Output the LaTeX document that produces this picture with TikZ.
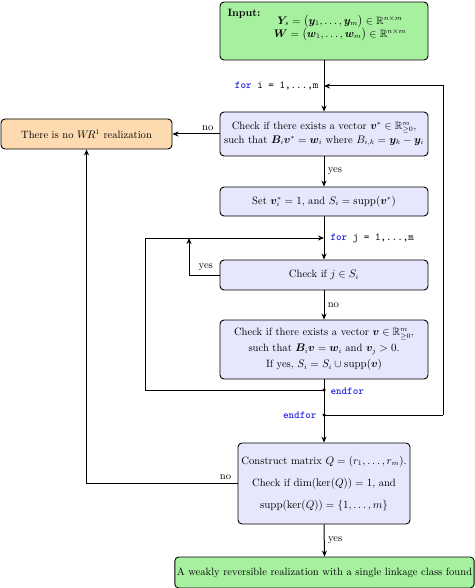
\documentclass[tikz,border=0pt]{standalone}
\usepackage{amsmath,amssymb,bm}
\usetikzlibrary{arrows.meta}
\definecolor{ingreen}{RGB}{166,240,160}
\definecolor{lav}{RGB}{230,230,252}
\definecolor{orng}{RGB}{253,218,176}
\definecolor{kwblue}{RGB}{40,40,220}
\newcommand{\fsz}{\fontsize{10.6}{13}\selectfont}
\tikzset{
  box/.style={draw, line width=0.9pt, rounded corners=4pt, align=center, inner sep=2pt, font=\fsz},
  lavbox/.style={box, fill=lav},
  grbox/.style={box, fill=ingreen},
  orbox/.style={box, fill=orng},
  conn/.style={line width=1pt},
  arr/.style={conn, -{Stealth[length=6pt,width=5pt]}},
  lbl/.style={font=\fsz},
  kw/.style={font=\ttfamily\fsz},
  junct/.style={circle, fill, inner sep=0pt, minimum size=3.5pt}
}
\newcommand{\kwd}[1]{\textcolor{kwblue}{\textbf{#1}}}
\begin{document}
\begin{tikzpicture}[x=1pt,y=-1pt]
\useasboundingbox (0,0) rectangle (474,588);
% boxes
\node[grbox, minimum width=208pt, minimum height=58pt] (input) at (324,31) {};
\node[font=\fsz\bfseries, anchor=north west] (inlbl) at (224,6) {Input:};
\node[font=\fsz, align=center] (inmath) at (340,28) {$\bm{Y}_s = \big(\bm{y}_1,\ldots,\bm{y}_m\big)\in\mathbb{R}^{n\times m}$\\[-1pt]$\bm{W} = \big(\bm{w}_1,\ldots,\bm{w}_m\big)\in\mathbb{R}^{n\times m}$};
\node[lavbox, minimum width=208pt, minimum height=44pt] (check1) at (324,134) {Check if there exists a vector $\bm{v}^*\in\mathbb{R}^m_{\geq 0}$,\\[1pt] such that $\bm{B}_i\bm{v}^* = \bm{w}_i$ where $B_{i,k} = \bm{y}_k - \bm{y}_i$};
\node[orbox, minimum width=171pt, minimum height=30pt] (noreal) at (86.5,134) {There is no $W\!R^1$ realization};
\node[lavbox, minimum width=208pt, minimum height=29pt] (setbox) at (324,201.5) {Set $\bm{v}^*_i = 1$, and $S_i = \operatorname{supp}(\bm{v}^*)$};
\node[lavbox, minimum width=208pt, minimum height=30pt] (check2) at (324,275) {Check if $j\in S_i$};
\node[lavbox, minimum width=208pt, minimum height=59pt] (check3) at (324,349.5) {Check if there exists a vector $\bm{v}\in\mathbb{R}^m_{\geq 0}$,\\[3pt] such that $\bm{B}_i\bm{v} = \bm{w}_i$ and $\bm{v}_j>0$.\\[3pt] If yes, $S_i = S_i\cup\operatorname{supp}(\bm{v})$};
\node[lavbox, minimum width=172pt, minimum height=81pt] (check4) at (324,483.5) {Construct matrix $Q = (r_1,\ldots,r_m)$.\\[9pt] Check if $\dim(\ker(Q)) = 1$, and\\[9pt] $\operatorname{supp}(\ker(Q)) = \{1,\ldots,m\}$};
\node[grbox, minimum width=297pt, minimum height=31pt] (found) at (324.5,572.5) {A weakly reversible realization with a single linkage class found};
% coordinates
\coordinate (fori) at (324,86);
\coordinate (forj) at (324,238);
\coordinate (rtop) at (443,86);
\coordinate (rbot) at (443,415);
\coordinate (ltop) at (145,238);
\coordinate (lbot) at (145,390);
\coordinate (ytop) at (189,238);
\coordinate (nobot) at (86.5,483.5);
% labels
\node[kw, anchor=east] (foril) at (322,86) {\kwd{for} i = 1,...,m};
\node[kw, anchor=west] (forjl) at (327,238) {\kwd{for} j = 1,...,m};
\node[kw, anchor=west] (e1l) at (327,391) {\kwd{endfor}};
\node[kw, anchor=east] (e2l) at (320,415) {\kwd{endfor}};
% connectors
\draw[arr] (input.south) -- (check1.north);
\draw[arr] (rbot) -- (rtop) -- (fori);
\draw[arr] (check1.west) -- node[lbl, above, pos=0.25] {no} (noreal.east);
\draw[arr] (check1.south) -- node[lbl, right] {yes} (setbox.north);
\draw[arr] (setbox.south) -- (check2.north);
\draw[arr] (check2.west) -- node[lbl, above, pos=0.45] {yes} (189,275) -- (ytop);
\draw[arr] (check2.south) -- node[lbl, right] {no} (check3.north);
\draw[conn] (check3.south) -- (324,415);
\draw[arr] (324,390) -- (lbot) -- (ltop) -- (forj);
\draw[arr] (324,415) -- (check4.north);
\draw[conn] (324,415) -- (rbot);
\node[junct] (e1) at (324,390) {};
\node[junct] (e2) at (324,415) {};
\draw[arr] (check4.west) -- node[lbl, above, pos=0.08] {no} (nobot) -- (noreal.south);
\draw[arr] (check4.south) -- node[lbl, right] {yes} (found.north);
\end{tikzpicture}
\end{document}
